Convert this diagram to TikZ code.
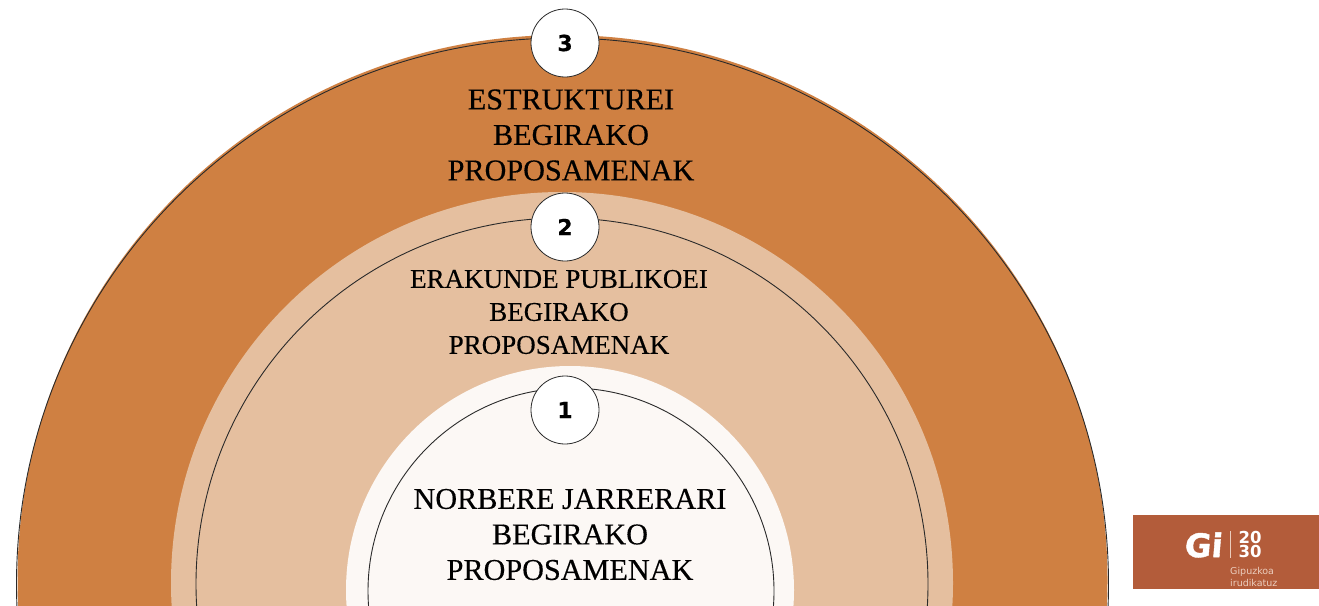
\documentclass[tikz,border=0pt]{standalone}
\usepackage{fontspec}
\setmainfont{Liberation Serif}[FakeBold=0.35]
\newfontfamily\numfont{DejaVu Sans}[BoldFeatures={FakeBold=0.6}]
\newfontfamily\logofont{DejaVu Sans}
\newfontfamily\gifont{DejaVu Sans Bold}[FakeBold=1.2,FakeSlant=0.08]
\definecolor{outerfill}{HTML}{CF8042}
\definecolor{midfill}{HTML}{E5BF9F}
\definecolor{innerfill}{HTML}{FCF8F5}
\definecolor{logofill}{HTML}{B35C3A}
\definecolor{ringline}{HTML}{2A2A2A}
\definecolor{logotext}{HTML}{EBCDBD}
\tikzset{
  x=1pt,y=-1pt,
  ring/.style={draw=ringline,line width=0.9pt},
  numdisc/.style={circle,draw=ringline,line width=0.8pt,fill=white,minimum size=68pt,inner sep=0pt,font=\numfont\bfseries\fontsize{22}{22}\selectfont},
  heading/.style={align=center,inner sep=0pt,text=black,font=\fontsize{30.2}{35.5}\selectfont},
}
\begin{document}
\begin{tikzpicture}
\clip (0,0) rectangle (1319,605);
\useasboundingbox (0,0) rectangle (1319,605);
\fill[white] (0,0) rectangle (1319,605);
% filled bands
\fill[outerfill] (562.5,580) circle[radius=545];
\draw[ring] (562.5,584) circle[radius=546];
\fill[midfill] (562,583) circle[radius=391];
\draw[ring] (562,584) circle[radius=366];
\fill[innerfill] (570,590) circle[radius=224];
\draw[ring] (571,591) circle[radius=203];
% number discs
\node[numdisc] (n3) at (565,43) {3};
\node[numdisc] (n2) at (565,227) {2};
\node[numdisc] (n1) at (565,410) {1};
% headings
\node[heading,anchor=center] (t3) at (571,135) {ESTRUKTUREI\\BEGIRAKO\\PROPOSAMENAK};
\node[heading,anchor=center,font=\fontsize{27}{33}\selectfont] (t2) at (559,312) {ERAKUNDE PUBLIKOEI\\BEGIRAKO\\PROPOSAMENAK};
\node[heading,anchor=center] (t1) at (570,534.5) {NORBERE JARRERARI\\BEGIRAKO\\PROPOSAMENAK};
% logo
\fill[logofill] (1133,515) rectangle (1319,589);
\node[inner sep=0pt,text=white,font=\gifont\fontsize{32.5}{32.5}\selectfont] (gi) at (1203,545) {Gi};
\draw[logotext,line width=0.8pt] (1230,531) -- (1230,558);
\node[inner sep=0pt,text=white,align=left,anchor=west,font=\logofont\bfseries\fontsize{16.5}{14.5}\selectfont] (yr) at (1238.5,544.5) {20\\30};
\node[inner sep=0pt,text=logotext,align=left,anchor=west,font=\logofont\fontsize{9.5}{12}\selectfont] (gk) at (1230,577) {Gipuzkoa\\irudikatuz};
\end{tikzpicture}
\end{document}
